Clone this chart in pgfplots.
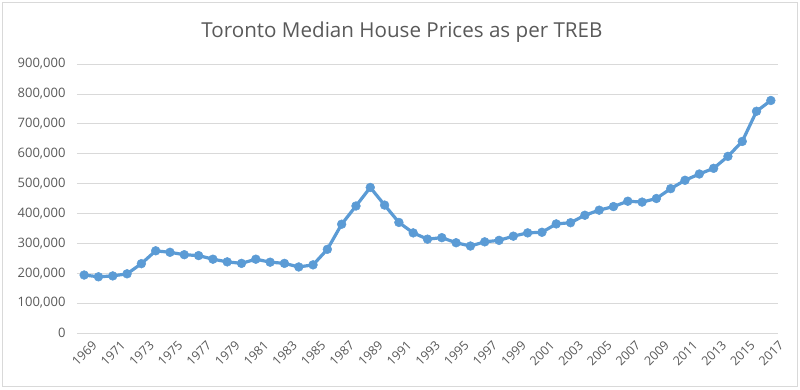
\documentclass[border=0pt]{standalone}
\usepackage{fontspec}
\setmainfont{Open Sans}
\usepackage{pgfplots}
\pgfplotsset{compat=1.18}
\definecolor{linec}{HTML}{5B9BD5}
\definecolor{txt}{HTML}{595959}
\definecolor{gridc}{HTML}{D9D9D9}
\begin{document}
\begin{tikzpicture}
\useasboundingbox (-77pt,-56pt) rectangle (723pt,333pt);
\draw[gridc, line width=0.8pt] (-74.5pt,-53.5pt) rectangle (720.5pt,330.5pt);
\begin{axis}[
  scale only axis, width=701pt, height=269pt,
  xmin=1968.5, xmax=2017.5, ymin=0, ymax=900000,
  xtick={1969,1971,...,2017}, ytick={0,100000,...,900000},
  scaled y ticks=false,
  major tick length=0pt,
  ymajorgrids, grid style={gridc, line width=0.8pt},
  axis line style={draw=none},
  tick label style={font=\fontsize{13}{15}\selectfont, text=txt},
  /pgf/number format/assume math mode=true,
  y tick label style={xshift=-8pt,/pgf/number format/.cd, fixed, 1000 sep={,}},
  x tick label style={rotate=45, anchor=north east, inner sep=2pt, yshift=-8pt, xshift=2pt,
    font=\fontsize{12.5}{14}\selectfont, /pgf/number format/.cd, 1000 sep={}},
  clip=false,
]
\addplot[linec, line width=3.2pt, mark=*, mark size=4.4pt,
  mark options={fill=linec, draw=linec, line width=0.5pt}] coordinates {
(1969,194000) (1970,188000) (1971,191000) (1972,198000) (1973,232000)
(1974,275000) (1975,270000) (1976,262000) (1977,259000) (1978,247000)
(1979,238000) (1980,233000) (1981,247000) (1982,237000) (1983,233000)
(1984,221000) (1985,228000) (1986,280000) (1987,364000) (1988,425000)
(1989,487000) (1990,428000) (1991,370000) (1992,335000) (1993,314000)
(1994,319000) (1995,302000) (1996,291000) (1997,305000) (1998,310000)
(1999,324000) (2000,335000) (2001,337000) (2002,365000) (2003,369000)
(2004,394000) (2005,411000) (2006,423000) (2007,441000) (2008,438000)
(2009,450000) (2010,483000) (2011,511000) (2012,532000) (2013,551000)
(2014,591000) (2015,641000) (2016,742000) (2017,778000)
};
\end{axis}
\node[anchor=base, font=\fontsize{20.6}{24}\selectfont, text=txt] at (325pt,295.7pt) {Toronto Median House Prices as per TREB};
\end{tikzpicture}
\end{document}
